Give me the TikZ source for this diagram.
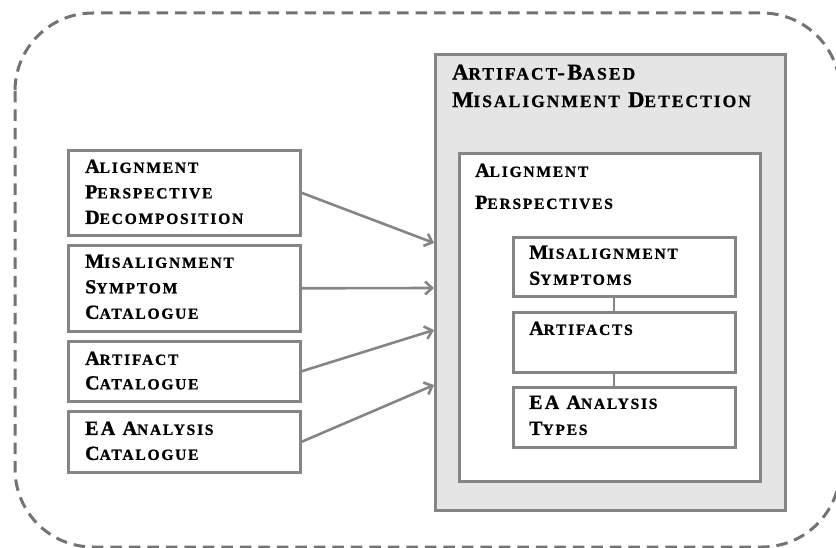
\documentclass[tikz,border=0pt]{standalone}
\usepackage{fontspec}
\usetikzlibrary{arrows.meta,calc}
\newfontfamily\capfont{Liberation Serif Bold}[LetterSpace=11.5,FakeBold=1]
% fake small caps: lower-case part set smaller
\newcommand\smc[1]{{\fontsize{15.5}{15.5}\selectfont #1}}
\newcommand\smt[1]{{\fontsize{17.5}{17.5}\selectfont #1}}
\definecolor{edge}{gray}{0.52}
\definecolor{dashc}{gray}{0.45}
\definecolor{panel}{gray}{0.90}
\tikzset{
  box/.style={draw=edge, line width=2.6pt, fill=white, rectangle, inner sep=0pt, anchor=north west},
  lbl/.style={anchor=north west, inner sep=0pt, align=left, text=black},
  arr/.style={draw=edge, line width=2.6pt, -{Straight Barb[length=7pt,width=13pt,line width=2.6pt]}},
  link/.style={draw=edge, line width=2.6pt},
  ln/.style={font={\capfont\fontsize{20}{#1}\selectfont}},
  lnt/.style={font={\capfont\fontsize{22.5}{#1}\selectfont}}
}
\begin{document}
\begin{tikzpicture}[x=1pt,y=-1pt]
\useasboundingbox (0,0) rectangle (836,548);
% outer dashed frame
\draw[dashc, line width=3pt, dash pattern=on 11.5pt off 7pt, rounded corners=78pt] (15,13) rectangle (840,547);

% left catalogue boxes
\node[box, minimum width=232pt, minimum height=85pt] (b1) at (67,149) {};
\node[box, minimum width=232pt, minimum height=86pt] (b2) at (67,244) {};
\node[box, minimum width=232pt, minimum height=60pt] (b3) at (67,340) {};
\node[box, minimum width=232pt, minimum height=61pt] (b4) at (67,410) {};
\node[lbl, ln=25.5pt] (l1) at (85,159.5) {A\smc{LIGNMENT}\\P\smc{ERSPECTIVE}\\D\smc{ECOMPOSITION}};
\node[lbl, ln=25.5pt] (l2) at (85,254.5) {M\smc{ISALIGNMENT}\\S\smc{YMPTOM}\\C\smc{ATALOGUE}};
\node[lbl, ln=24.5pt] (l3) at (85,351.5) {A\smc{RTIFACT}\\C\smc{ATALOGUE}};
\node[lbl, ln=25pt] (l4) at (85,421.5) {EA A\smc{NALYSIS}\\C\smc{ATALOGUE}};

% detection panel
\node[box, fill=panel, minimum width=350pt, minimum height=456pt] (det) at (434,53) {};
\node[lbl, lnt=27.5pt] (dt) at (452,64.5) {A\smt{RTIFACT}-B\smt{ASED}\\M\smt{ISALIGNMENT} D\smt{ETECTION}};
\node[box, minimum width=301pt, minimum height=328pt] (per) at (458,152) {};
\node[lbl, ln=32pt] (pt) at (475,163.5) {A\smc{LIGNMENT}\\P\smc{ERSPECTIVES}};

% perspective elements
\node[box, minimum width=222pt, minimum height=59pt] (sa) at (512,236) {};
\node[box, minimum width=222pt, minimum height=60pt] (sb) at (512,311) {};
\node[box, minimum width=222pt, minimum height=60pt] (sc) at (512,386) {};
\node[lbl, ln=26pt] (ta) at (529,245.5) {M\smc{ISALIGNMENT}\\S\smc{YMPTOMS}};
\node[lbl, ln=26pt] (tb) at (529,321.5) {A\smc{RTIFACTS}};
\node[lbl, ln=26pt] (tc) at (529,395.5) {EA A\smc{NALYSIS}\\T\smc{YPES}};
\draw[link] ($(sa.south west)+(102,0)$) -- ($(sb.north west)+(102,0)$);
\draw[link] ($(sb.south west)+(102,0)$) -- ($(sc.north west)+(102,0)$);

% inputs into the panel
\coordinate (e1) at ($(det.north west)+(0,190)$);
\coordinate (e2) at ($(det.north west)+(0,235)$);
\coordinate (e3) at ($(det.north west)+(0,277)$);
\coordinate (e4) at ($(det.north west)+(0,332)$);
\draw[arr] (b1.east) -- (e1);
\draw[arr] (b2.east) -- (e2);
\draw[arr] (b3.east) -- (e3);
\draw[arr] (b4.east) -- (e4);
\end{tikzpicture}
\end{document}
